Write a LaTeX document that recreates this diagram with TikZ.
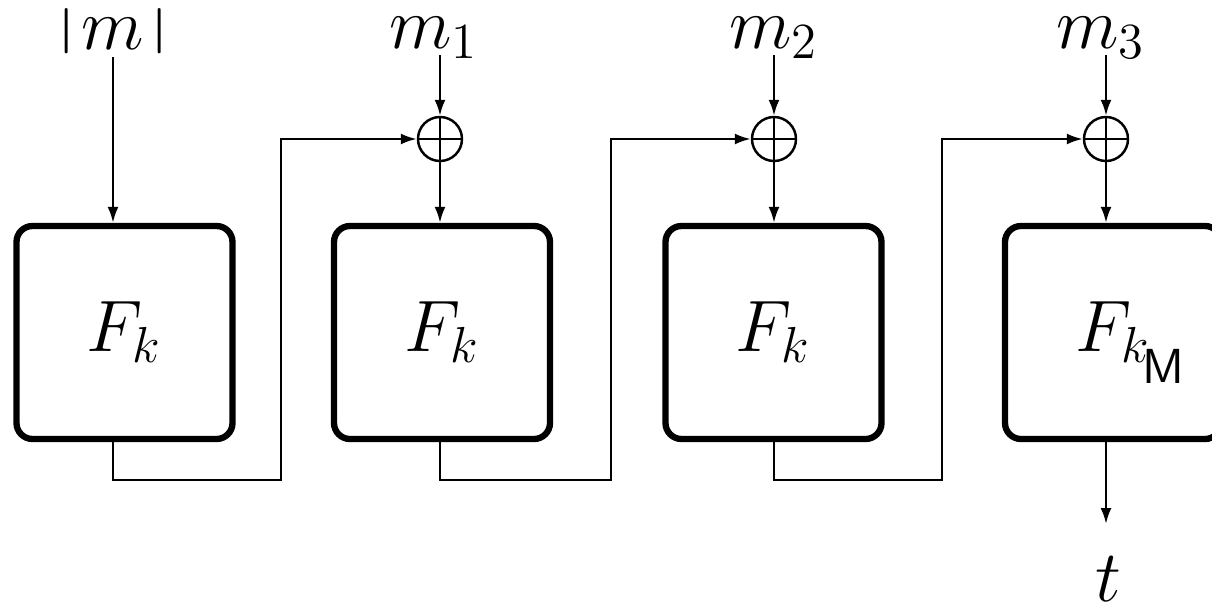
\documentclass[tikz,border=0pt]{standalone}
\usepackage{amsmath,amssymb}
\usepackage{graphicx}
\usepackage{tikz}
\usetikzlibrary{arrows.meta,positioning}
\newcommand{\shortbar}{\raisebox{0.07cm}{\scalebox{1}[0.62]{$|$}}}
\tikzset{
  fbox/.style ={rectangle, draw=black, line width=1.8pt, rounded corners=1.6mm,
                minimum width=2.16cm, minimum height=2.13cm, inner sep=0pt,
                font=\fontsize{20.74}{25}\selectfont},
  xorgate/.style={circle, draw=black, line width=0.7pt, minimum size=4.4mm, inner sep=0pt,
                path picture={\draw[line width=0.7pt]
                  (path picture bounding box.north) -- (path picture bounding box.south)
                  (path picture bounding box.west) -- (path picture bounding box.east);}},
  msg/.style  ={anchor=base, inner sep=0pt, font=\fontsize{20.74}{25}\selectfont},
  wire/.style ={line width=0.7pt, black},
  warr/.style ={wire, -{Latex[length=1.6mm,width=1.1mm]}},
}
\begin{document}
\begin{tikzpicture}
  \useasboundingbox (0,0) rectangle (12.12,-6.06);
  \node[fbox] (b1) at (1.245,-3.325) {$F_k$};
  \node[fbox] (b2) at (4.42,-3.325) {$F_k$};
  \node[fbox] (b3) at (7.735,-3.325) {$F_k$};
  \node[fbox] (b4) at (11.13,-3.325) {$F_k$};
  \node[font=\fontsize{14}{14}\sffamily, inner sep=0pt] (hm) at (11.63,-3.66) {M};
  \node[xorgate] (x1) at (4.40,-1.39) {};
  \node[xorgate] (x2) at (7.74,-1.39) {};
  \node[xorgate] (x3) at (11.06,-1.39) {};
  \node[msg] (lm) at (1.13,-0.49) {\shortbar\kern0.05cm$m$\kern0.05cm\shortbar};
  \node[msg] (m1) at (4.34,-0.48) {$m_1$};
  \node[msg] (m2) at (7.74,-0.48) {$m_2$};
  \node[msg] (m3) at (11.01,-0.48) {$m_3$};
  \node[msg] (t) at (11.08,-6.01) {$t$};
  \coordinate (j1) at (2.81,-4.80);
  \coordinate (j2) at (6.11,-4.80);
  \coordinate (j3) at (9.42,-4.80);
  \coordinate (tin) at (11.06,-5.24);
  \draw[warr] (lm.south |- 0,-0.57) -- (lm |- b1.north);
  \draw[warr] (x1 |- 0,-0.55) -- (x1.north);
  \draw[warr] (x2 |- 0,-0.55) -- (x2.north);
  \draw[warr] (x3 |- 0,-0.55) -- (x3.north);
  \draw[warr] (x1.south) -- (x1 |- b2.north);
  \draw[warr] (x2.south) -- (x2 |- b3.north);
  \draw[warr] (x3.south) -- (x3 |- b4.north);
  \draw[warr] (lm |- b1.south) |- (j1) |- (x1.west);
  \draw[warr] (x1 |- b2.south) |- (j2) |- (x2.west);
  \draw[warr] (x2 |- b3.south) |- (j3) |- (x3.west);
  \draw[warr] (x3 |- b4.south) -- (tin);
\end{tikzpicture}
\end{document}
